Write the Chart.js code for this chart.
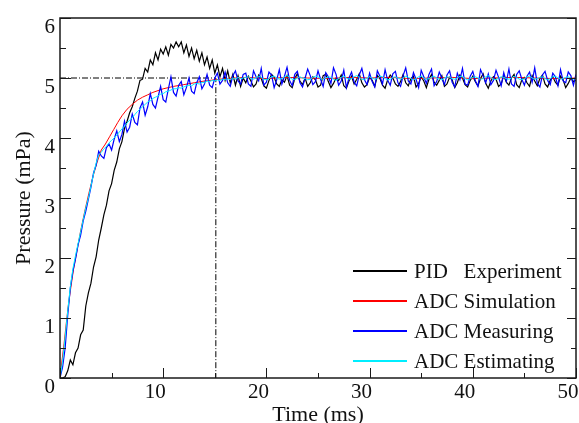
<!DOCTYPE html>
<html>
<head>
<meta charset="utf-8">
<title>Pressure response</title>
<script src="https://cdn.jsdelivr.net/npm/chart.js@4.4.0/dist/chart.umd.min.js"></script>
<style>
  html, body { margin: 0; padding: 0; background: #fff; }
  #wrap { width: 579px; height: 423px; }
</style>
</head>
<body>
<div id="wrap"><canvas id="chart" width="579" height="423"></canvas></div>
<script>
  // measured traces are sampled every 0.25 ms, from 0 to 50 ms
  var SAMPLE_MS = 0.25;

  var pidExperiment = [
    0, 0, 0.02, 0.12, 0.3, 0.22, 0.42, 0.5,
    0.72, 0.8, 1.2, 1.42, 1.58, 1.85, 2.02, 2.3,
    2.5, 2.72, 2.88, 3.12, 3.24, 3.46, 3.6, 3.82,
    3.94, 4.16, 4.28, 4.42, 4.52, 4.66, 4.78, 4.96,
    4.98, 5.16, 5.1, 5.3, 5.22, 5.42, 5.3, 5.48,
    5.4, 5.52, 5.38, 5.56, 5.5, 5.6, 5.52, 5.6,
    5.42, 5.55, 5.36, 5.5, 5.32, 5.46, 5.28, 5.42,
    5.22, 5.35, 5.16, 5.3, 5.08, 5.22, 5.02, 5.16,
    4.96, 5.12, 4.92, 5.06, 4.88, 5.04, 4.86, 5.0,
    4.92, 5.03, 4.95, 4.85, 4.9, 5.05, 4.99, 4.87,
    4.83, 4.96, 5.06, 5.01, 4.9, 4.86, 4.97, 4.93,
    5.04, 4.88, 4.84, 4.99, 5.07, 4.95, 4.89, 5.0,
    4.86, 4.92, 5.02, 4.97, 4.85, 4.88, 5.04, 5.06,
    4.94, 4.84, 4.91, 5.0, 4.96, 5.05, 4.87, 4.83,
    4.95, 5.03, 4.9, 4.98, 5.07, 4.92, 4.85, 4.89,
    5.01, 4.96, 4.86, 5.04, 4.99, 4.88, 4.83, 4.97,
    5.05, 5.0, 4.9, 4.86, 4.94, 5.06, 4.92, 4.87,
    4.99, 5.03, 4.85, 4.91, 5.02, 4.95, 4.84, 4.98,
    5.06, 4.93, 4.88, 4.96, 5.04, 4.86, 4.9, 5.01,
    4.97, 4.84, 4.92, 5.05, 5.0, 4.89, 4.85, 4.96,
    5.03, 4.94, 4.87, 4.99, 5.07, 4.91, 4.83, 4.95,
    5.02, 4.98, 4.86, 4.9, 5.04, 4.93, 4.88, 5.0,
    5.06, 4.89, 4.84, 4.97, 5.01, 4.92, 4.86, 5.04,
    4.95, 4.87, 4.99, 5.05, 4.9, 4.85, 4.96, 5.02,
    4.93, 4.88, 5.03, 4.97, 4.84, 4.91, 5.0, 4.94,
    4.96
  ];

  var adcMeasuring = [
    0, 0.18, 0.5, 1.05, 1.5, 1.78, 1.98, 2.22,
    2.38, 2.62, 2.78, 2.98, 3.18, 3.42, 3.55, 3.78,
    3.7, 3.66, 3.84, 3.9, 3.8, 3.98, 4.12, 3.94,
    4.06, 4.28, 4.1, 4.18, 4.4, 4.26, 4.22, 4.5,
    4.6, 4.38, 4.52, 4.74, 4.56, 4.5, 4.68, 4.86,
    4.64, 4.6, 4.82, 5.02, 4.76, 4.7, 4.88, 4.94,
    4.72, 4.84, 5.0, 4.78, 4.74, 4.92, 5.02, 4.82,
    4.9, 5.06, 4.88, 4.84, 5.0, 5.08, 4.9, 4.96,
    5.1, 4.92, 4.86, 5.04, 5.12, 4.95, 4.9, 5.06,
    5.08, 4.9, 4.86, 5.12, 5.02, 4.95, 5.16, 4.88,
    4.93, 5.1, 5.05, 4.84, 4.97, 5.14, 4.9, 5.03,
    5.18, 4.96, 4.87, 5.06, 5.11, 4.92, 4.85, 5.0,
    5.15, 5.04, 4.89, 4.94, 5.12, 4.98, 4.86, 5.09,
    5.02, 4.91, 5.17, 5.06, 4.88, 4.95, 5.13, 4.84,
    5.0, 5.1, 4.93, 4.87, 5.05, 5.16, 4.97, 4.89,
    5.08, 4.94, 4.85, 5.12, 5.03, 4.9, 5.14, 4.96,
    4.88, 5.07, 5.11, 4.92, 4.86, 5.04, 5.17, 4.95,
    4.9, 5.09, 4.98, 4.84, 5.13, 5.02, 4.91, 5.06,
    5.15, 4.87, 4.94, 5.1, 5.0, 4.89, 5.05, 5.12,
    4.93, 4.85, 5.08, 4.97, 5.16, 4.9, 4.88, 5.03,
    5.11, 4.95, 4.86, 5.14, 5.04, 4.92, 5.07, 4.89,
    4.96, 5.13, 5.01, 4.87, 5.09, 4.94, 5.15, 4.9,
    4.86, 5.06, 5.12, 4.98, 4.88, 5.03, 5.1, 4.93,
    5.17, 4.91, 4.85, 5.05, 5.11, 4.96, 4.89, 5.08,
    5.02, 4.87, 5.14, 4.95, 4.92, 5.1, 5.04, 4.88,
    5.06
  ];

  var adcEstimating = [
    0, 0.28, 0.68, 1.12, 1.52, 1.82, 2.04, 2.24,
    2.44, 2.64, 2.84, 3.0, 3.2, 3.4, 3.58, 3.72,
    3.76, 3.82, 3.86, 3.92, 3.96, 4.0, 4.05, 4.1,
    4.15, 4.2, 4.25, 4.3, 4.34, 4.39, 4.44, 4.48,
    4.52, 4.56, 4.6, 4.62, 4.66, 4.68, 4.7, 4.73,
    4.74, 4.77, 4.78, 4.8, 4.82, 4.82, 4.84, 4.83,
    4.85, 4.87, 4.88, 4.87, 4.9, 4.91, 4.9, 4.93,
    4.92, 4.95, 4.94, 4.96, 4.95, 4.97, 4.96, 4.98,
    4.97, 4.99, 4.97, 5.0, 4.98, 5.01, 4.99, 5.0,
    5.01, 5.02, 4.99, 4.98, 5.0, 5.03, 5.01, 4.98,
    4.97, 4.99, 5.02, 5.03, 5.0, 4.98, 4.99, 5.02,
    5.04, 5.01, 4.98, 4.97, 5.0, 5.02, 5.0, 4.99,
    4.97, 4.98, 5.01, 5.03, 5.02, 4.99, 4.98, 5.0,
    5.02, 5.01, 4.98, 4.96, 4.99, 5.01, 5.03, 5.0,
    4.98, 4.99, 5.02, 5.04, 5.01, 4.98, 4.97, 5.0,
    5.02, 5.0, 4.98, 4.99, 5.03, 5.02, 4.99, 4.97,
    4.98, 5.01, 5.02, 5.0, 4.98, 5.0, 5.03, 5.01,
    4.99, 4.97, 4.99, 5.02, 5.03, 5.0, 4.98, 4.99,
    5.01, 5.03, 5.0, 4.98, 4.97, 5.0, 5.02, 5.01,
    4.99, 4.98, 5.0, 5.03, 5.02, 4.99, 4.97, 4.99,
    5.01, 5.02, 5.0, 4.98, 4.99, 5.02, 5.04, 5.01,
    4.98, 4.97, 5.0, 5.02, 5.01, 4.99, 4.98, 5.0,
    5.03, 5.01, 4.98, 4.97, 4.99, 5.02, 5.03, 5.0,
    4.98, 4.99, 5.01, 5.02, 4.99, 4.97, 4.99, 5.02,
    5.03, 5.0, 4.98, 4.99, 5.01, 5.02, 5.0, 4.98,
    5.0
  ];

  // simulation curve is smooth, so it is kept on its own (uneven) time grid
  var simTime = [
    0, 0.2, 0.4, 0.6, 0.8, 1.0, 1.3, 1.6, 2.0, 2.4, 2.8, 3.2, 3.6, 4.0,
    4.4, 4.8, 5.2, 5.6, 6.0, 6.5, 7.0, 7.5, 8.0, 8.5, 9.0, 9.5, 10,
    11, 12, 13, 14, 15, 16, 17, 18,
    20, 22, 24, 26, 28, 30, 32, 34, 36, 38, 40, 42, 44, 46, 48, 50
  ];
  var simPressure = [
    0, 0.3, 0.58, 0.9, 1.2, 1.45, 1.8, 2.08, 2.45, 2.78, 3.08, 3.36, 3.6, 3.8,
    3.9, 4.02, 4.14, 4.26, 4.37, 4.48, 4.56, 4.63, 4.68, 4.72, 4.76, 4.79, 4.82,
    4.86, 4.89, 4.92, 4.95, 4.97, 4.99, 5.0, 5.01,
    4.99, 5.01, 5.0, 4.99, 5.01, 5.0, 5.01, 4.99, 5.0, 5.01, 4.99, 5.0, 5.01, 5.0, 4.99, 5.0
  ];

  // set point and settling time marked with the dash-dot guide
  var setPoint = 5;
  var settleTime = 15.1;

  var seriesLabels = ['PID   Experiment', 'ADC Simulation', 'ADC Measuring', 'ADC Estimating'];
  var seriesColors = ['#000000', '#ff0000', '#0000ff', '#00eeff'];
  var seriesWidths = [1.2, 1, 1.2, 1];

  var FONT = 'Liberation Serif, Times New Roman, serif';

  function sampled(values) {
    return values.map(function (v, i) { return { x: i * SAMPLE_MS, y: v }; });
  }

  function paired(xs, ys) {
    return xs.map(function (x, i) { return { x: x, y: ys[i] }; });
  }

  function lineSet(idx, data, order) {
    return {
      label: seriesLabels[idx],
      data: data,
      borderColor: seriesColors[idx],
      borderWidth: seriesWidths[idx],
      pointRadius: 0,
      tension: 0,
      fill: false,
      order: order
    };
  }

  // inward ticks (major + minor) and the closed frame, like the original plot
  var frameTicks = {
    id: 'frameTicks',
    afterDatasetsDraw: function (chart) {
      var ctx = chart.ctx;
      var a = chart.chartArea;
      var xs = chart.scales.x;
      var ys = chart.scales.y;
      ctx.save();
      ctx.strokeStyle = '#1a1a1a';
      ctx.lineWidth = 1;
      ctx.beginPath();
      var v, p, major;
      for (v = ys.min; v <= ys.max + 1e-9; v += 0.5) {
        p = Math.round(ys.getPixelForValue(v)) + 0.5;
        major = Math.abs(v - Math.round(v)) < 1e-9;
        ctx.moveTo(a.left, p);
        ctx.lineTo(a.left + (major ? 11 : 6), p);
        ctx.moveTo(a.right, p);
        ctx.lineTo(a.right - (major ? 9 : 5), p);
      }
      for (v = xs.min; v <= xs.max + 1e-9; v += 5) {
        p = Math.round(xs.getPixelForValue(v)) + 0.5;
        major = v % 10 === 0;
        ctx.moveTo(p, a.bottom);
        ctx.lineTo(p, a.bottom - (major ? 10 : 5));
      }
      ctx.stroke();
      ctx.lineWidth = 1.5;
      ctx.strokeRect(a.left, a.top, a.right - a.left, a.bottom - a.top);
      ctx.restore();
    }
  };

  // legend sits inside the plot, lower right
  var innerLegend = {
    id: 'innerLegend',
    afterDraw: function (chart) {
      var ctx = chart.ctx;
      var a = chart.chartArea;
      ctx.save();
      ctx.font = '21px ' + FONT;
      ctx.textBaseline = 'middle';
      ctx.textAlign = 'left';
      seriesLabels.forEach(function (label, i) {
        var y = a.bottom - 107 + i * 30;
        ctx.strokeStyle = seriesColors[i];
        ctx.lineWidth = 2;
        ctx.beginPath();
        ctx.moveTo(a.right - 223, y);
        ctx.lineTo(a.right - 169, y);
        ctx.stroke();
        ctx.fillStyle = '#111';
        ctx.fillText(label, a.right - 162, y + 1);
      });
      ctx.restore();
    }
  };

  function init() {
    var ctx = document.getElementById('chart').getContext('2d');
    new Chart(ctx, {
      type: 'line',
      data: {
        datasets: [
          lineSet(0, sampled(pidExperiment), 4),
          lineSet(1, paired(simTime, simPressure), 3),
          lineSet(2, sampled(adcMeasuring), 2),
          lineSet(3, sampled(adcEstimating), 1),
          {
            label: 'guide',
            data: [{ x: 0, y: setPoint }, { x: settleTime, y: setPoint }, { x: settleTime, y: 0 }],
            borderColor: '#000',
            borderWidth: 1,
            borderDash: [6, 2, 1, 2],
            pointRadius: 0,
            fill: false,
            order: 5
          }
        ]
      },
      options: {
        responsive: false,
        animation: false,
        layout: { padding: { top: 18, right: 3, left: 0, bottom: 0 } },
        plugins: {
          legend: { display: false },
          tooltip: { enabled: false }
        },
        scales: {
          x: {
            type: 'linear',
            min: 0,
            max: 50,
            grid: { display: false, drawTicks: false },
            border: { display: false },
            ticks: {
              stepSize: 10,
              padding: 2,
              labelOffset: -8,
              maxRotation: 0,
              color: '#111',
              font: { family: FONT, size: 21 },
              callback: function (v) { return v === 0 ? '' : v; }
            },
            title: {
              display: true,
              text: 'Time (ms)',
              color: '#111',
              font: { family: FONT, size: 22 },
              padding: { top: 0, bottom: -5 }
            },
            afterFit: function (scale) {
              scale.height = 45;
              scale.paddingLeft = 0;
              scale.paddingRight = 0;
            }
          },
          y: {
            min: 0,
            max: 6,
            grid: { display: false, drawTicks: false },
            border: { display: false },
            ticks: {
              stepSize: 1,
              padding: 5,
              labelOffset: 9,
              color: '#111',
              font: { family: FONT, size: 21 }
            },
            title: {
              display: true,
              text: 'Pressure (mPa)',
              color: '#111',
              font: { family: FONT, size: 22 },
              padding: { top: 11, bottom: 0 }
            },
            afterFit: function (scale) {
              scale.width = 60;
              scale.paddingTop = 0;
              scale.paddingBottom = 0;
            }
          }
        }
      },
      plugins: [frameTicks, innerLegend]
    });
  }

  init();
</script>
</body>
</html>
